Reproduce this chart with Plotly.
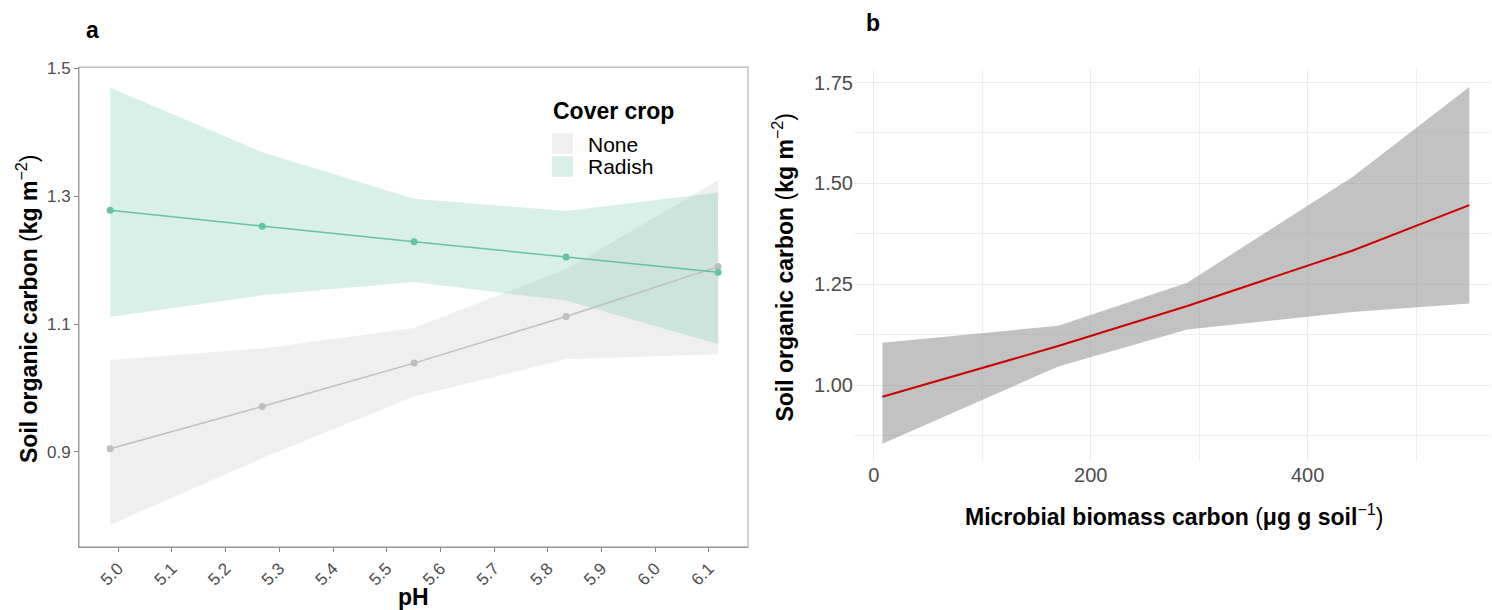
import plotly.graph_objects as go

# ---------------- data ----------------
# Panel a: soil organic carbon vs pH by cover crop
ph = [4.985, 5.268, 5.551, 5.834, 6.117]
none_fit = [0.905, 0.971, 1.039, 1.112, 1.190]
none_lo = [0.786, 0.890, 0.987, 1.045, 1.053]
none_hi = [1.044, 1.062, 1.094, 1.186, 1.325]
radish_fit = [1.278, 1.253, 1.229, 1.205, 1.181]
radish_lo = [1.111, 1.145, 1.166, 1.137, 1.069]
radish_hi = [1.470, 1.369, 1.296, 1.277, 1.306]
a_yticks = [0.9, 1.1, 1.3, 1.5]
a_xticks = [5.0, 5.1, 5.2, 5.3, 5.4, 5.5, 5.6, 5.7, 5.8, 5.9, 6.0, 6.1]

# Panel b: soil organic carbon vs microbial biomass carbon
mbc = [8, 170, 289, 441, 549]
b_fit = [0.971, 1.097, 1.196, 1.333, 1.446]
b_lo = [0.855, 1.046, 1.138, 1.181, 1.202]
b_hi = [1.105, 1.147, 1.254, 1.515, 1.739]
b_xticks = [0, 200, 400]
b_yticks = [1.00, 1.25, 1.50, 1.75]

W, H = 1492, 610
def px(x):
    return x / W
def py(y):
    return 1 - y / H

FONT = "Liberation Sans, Arial, Helvetica, sans-serif"
GREEN = "#66C2A5"
GREY = "#BEBEBE"

fig = go.Figure()

# ---- panel a ribbons ----
fig.add_trace(go.Scatter(x=ph + ph[::-1], y=none_hi + none_lo[::-1], fill="toself",
                         fillcolor="rgba(190,190,190,0.25)", line=dict(width=0),
                         mode="lines", hoverinfo="skip", showlegend=False,
                         xaxis="x", yaxis="y"))
fig.add_trace(go.Scatter(x=ph + ph[::-1], y=radish_hi + radish_lo[::-1], fill="toself",
                         fillcolor="rgba(102,194,165,0.25)", line=dict(width=0),
                         mode="lines", hoverinfo="skip", showlegend=False,
                         xaxis="x", yaxis="y"))
# ---- panel a lines ----
fig.add_trace(go.Scatter(x=ph, y=none_fit, mode="lines+markers",
                         line=dict(color=GREY, width=1.5), marker=dict(color=GREY, size=7),
                         showlegend=False, xaxis="x", yaxis="y"))
fig.add_trace(go.Scatter(x=ph, y=radish_fit, mode="lines+markers",
                         line=dict(color=GREEN, width=1.5), marker=dict(color=GREEN, size=7),
                         showlegend=False, xaxis="x", yaxis="y"))

# ---- panel b ----
fig.add_trace(go.Scatter(x=mbc + mbc[::-1], y=b_hi + b_lo[::-1], fill="toself",
                         fillcolor="rgba(153,153,153,0.6)", line=dict(width=0),
                         mode="lines", hoverinfo="skip", showlegend=False,
                         xaxis="x2", yaxis="y2"))
fig.add_trace(go.Scatter(x=mbc, y=b_fit, mode="lines",
                         line=dict(color="#CD0000", width=2),
                         showlegend=False, xaxis="x2", yaxis="y2"))

tickfont_a = dict(family=FONT, size=17, color="#4d4d4d")
tickfont_b = dict(family=FONT, size=20, color="#4d4d4d")

fig.update_layout(
    width=W, height=H,
    margin=dict(l=0, r=0, t=0, b=0),
    paper_bgcolor="white", plot_bgcolor="white",
    font=dict(family=FONT),
    showlegend=False,
    xaxis=dict(domain=[px(79), px(748)], range=[4.927, 6.1727],
               tickvals=a_xticks, ticktext=[f"{v:.1f}" for v in a_xticks],
               tickangle=-45, tickfont=tickfont_a,
               showline=True, linecolor="#7f7f7f", linewidth=1,
               ticks="outside", ticklen=4, tickcolor="#7f7f7f",
               showgrid=False, zeroline=False, anchor="y"),
    yaxis=dict(domain=[py(546), py(60)], range=[0.7515, 1.502],
               tickvals=a_yticks, ticktext=[f"{v:.1f}" for v in a_yticks],
               tickfont=tickfont_a,
               showline=True, linecolor="#7f7f7f", linewidth=1,
               ticks="outside", ticklen=4, tickcolor="#7f7f7f",
               showgrid=False, zeroline=False, anchor="x"),
    xaxis2=dict(domain=[px(854), px(1491)], range=[-18.2, 569],
                tickvals=b_xticks, ticktext=[str(v) for v in b_xticks],
                tickfont=tickfont_b, showline=False, ticks="",
                showgrid=True, gridcolor="#ebebeb", gridwidth=1.4,
                minor=dict(dtick=100, tick0=0, showgrid=True, gridcolor="#eeeeee", gridwidth=1),
                zeroline=False, anchor="y2"),
    yaxis2=dict(domain=[py(459), py(62)], range=[0.812, 1.783],
                tickvals=b_yticks, ticktext=[f"{v:.2f}" for v in b_yticks],
                tickfont=tickfont_b, showline=False, ticks="",
                showgrid=True, gridcolor="#ebebeb", gridwidth=1.4,
                minor=dict(dtick=0.25, tick0=0.875, showgrid=True, gridcolor="#eeeeee", gridwidth=1),
                zeroline=False, anchor="x2"),
)

shapes = [
    # panel a light border (top/right)
    dict(type="rect", xref="paper", yref="paper", x0=px(79), x1=px(748), y0=py(546), y1=py(60),
         line=dict(color="#b3b3b3", width=1.2), fillcolor="rgba(0,0,0,0)", layer="above"),
    # legend keys
    dict(type="rect", xref="paper", yref="paper", x0=px(552), x1=px(573), y0=py(148), y1=py(127),
         line=dict(width=0), fillcolor="rgba(190,190,190,0.25)"),
    dict(type="rect", xref="paper", yref="paper", x0=px(552), x1=px(573), y0=py(171), y1=py(150),
         line=dict(width=0), fillcolor="rgba(102,194,165,0.25)"),
]
fig.update_layout(shapes=shapes)

TITLE = dict(family=FONT, size=23, color="black")
LEG = dict(family=FONT, size=21, color="black")
ann = [
    dict(text="<b>a</b>", x=px(92), y=py(22), font=TITLE),
    dict(text="<b>b</b>", x=px(873), y=py(15), font=TITLE),
    dict(text="<b>pH</b>", x=px(413), y=py(597), font=TITLE),
    dict(text="<b>Microbial biomass carbon </b>(<b>μg g soil</b><sup>−1</sup>)",
         x=px(1174), y=py(514), font=TITLE),
    dict(text="<b>Soil organic carbon </b>(<b>kg m</b><sup>−2</sup>)", x=px(27), y=py(305),
         textangle=-90, font=TITLE),
    dict(text="<b>Soil organic carbon </b>(<b>kg m</b><sup>−2</sup>)", x=px(783), y=py(262),
         textangle=-90, font=TITLE),
    dict(text="<b>Cover crop</b>", x=px(551), y=py(104), xanchor="left", font=TITLE),
    dict(text="None", x=px(586), y=py(138), xanchor="left", font=LEG),
    dict(text="Radish", x=px(586), y=py(161), xanchor="left", font=LEG),
]
for a in ann:
    a.setdefault("xanchor", "center")
    a.update(xref="paper", yref="paper", yanchor="middle", showarrow=False)
fig.update_layout(annotations=ann)

fig.write_html("out.html")
